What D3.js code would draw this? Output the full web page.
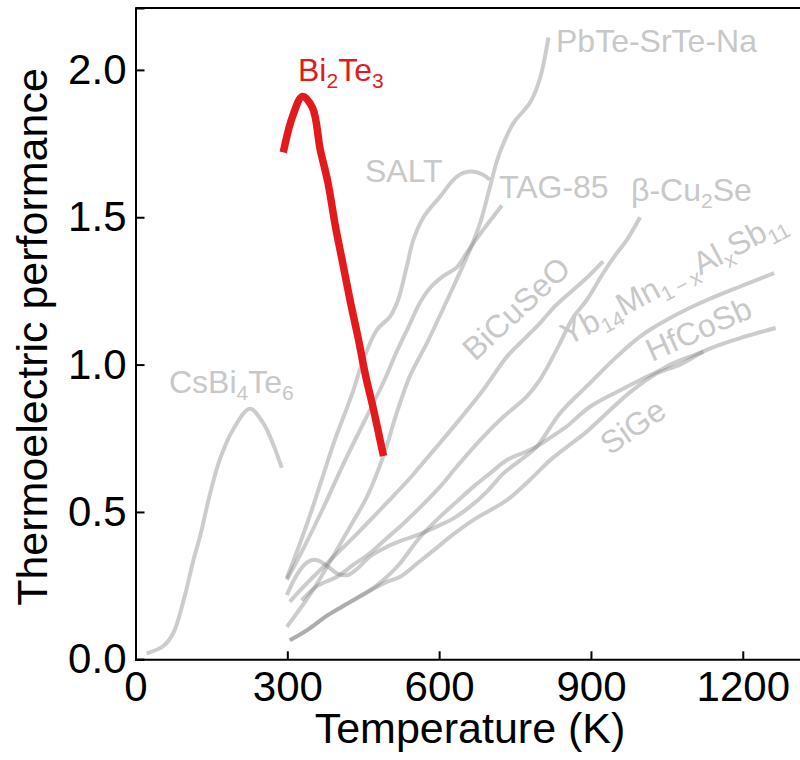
<!DOCTYPE html>
<html>
<head>
<meta charset="utf-8">
<script src="https://cdn.jsdelivr.net/npm/d3@7.9.0/dist/d3.min.js"></script>
<style>
  body { margin: 0; background: #fff; }
  svg text { font-family: "Liberation Sans", Arial, Helvetica, sans-serif; }
</style>
</head>
<body>
<svg id="chart" width="800" height="760"></svg>
<script>
// zT vs temperature, values as [T (K), zT]
const bi2te3 = [[292,1.72],[310,1.84],[330,1.91],[350,1.87],[365,1.73],[380,1.62],[395,1.47],[410,1.34],[425,1.21],[440,1.09],[455,0.96],[470,0.85],[490,0.69]];
const csbi4te6 = [[22,0.02],[55,0.045],[75,0.09],[95,0.2],[115,0.34],[128,0.42],[147,0.56],[167,0.68],[193,0.78],[226,0.85],[253,0.80],[272,0.73],[289,0.65]];
const pbte = [[299,0.11],[345,0.22],[384,0.33],[424,0.45],[457,0.55],[490,0.69],[516,0.835],[542,0.96],[575,1.07],[608,1.19],[635,1.29],[661,1.39],[681,1.48],[700,1.6],[714,1.69],[727,1.75],[747,1.82],[780,1.89],[799,1.97],[816,2.11]];
const salt = [[299,0.275],[320,0.37],[345,0.49],[370,0.62],[395,0.75],[415,0.84],[430,0.91],[450,1.016],[477,1.118],[503,1.163],[519,1.22],[536,1.333],[549,1.423],[569,1.50],[602,1.57],[635,1.638],[661,1.655],[687,1.644],[700,1.627]];
const tag85 = [[299,0.27],[330,0.37],[370,0.51],[410,0.66],[450,0.80],[490,0.94],[515,1.04],[540,1.13],[562,1.21],[582,1.26],[608,1.30],[635,1.33],[654,1.378],[687,1.457],[724,1.54]];
const cu2se = [[328,0.20],[360,0.25],[398,0.28],[430,0.32],[463,0.36],[496,0.41],[529,0.46],[565,0.52],[602,0.586],[635,0.654],[681,0.744],[727,0.823],[773,0.891],[799,0.948],[832,1.05],[865,1.16],[892,1.22],[924,1.31],[951,1.378],[971,1.423],[997,1.50]];
const bicuseo = [[305,0.196],[340,0.26],[381,0.33],[440,0.43],[496,0.53],[540,0.61],[562,0.654],[602,0.735],[641,0.815],[687,0.914],[734,1.027],[770,1.09],[799,1.14],[830,1.20],[865,1.254],[895,1.30],[924,1.35]];
const ybmnsb = [[299,0.218],[320,0.29],[340,0.33],[358,0.337],[380,0.315],[400,0.29],[420,0.286],[440,0.31],[463,0.348],[495,0.38],[529,0.405],[562,0.425],[595,0.45],[630,0.48],[661,0.518],[695,0.57],[727,0.631],[760,0.675],[793,0.722],[839,0.835],[898,0.937],[951,1.027],[997,1.095],[1050,1.152],[1115,1.208],[1195,1.265],[1262,1.31]];
const hfcosb = [[305,0.065],[340,0.1],[380,0.15],[420,0.19],[460,0.23],[480,0.255],[520,0.32],[560,0.41],[602,0.484],[635,0.535],[668,0.586],[700,0.63],[734,0.676],[765,0.70],[793,0.722],[822,0.755],[852,0.79],[898,0.857],[960,0.915],[997,0.948],[1030,0.975],[1063,1.005],[1100,1.03],[1122,1.044]];
const sige = [[305,0.065],[340,0.1],[380,0.15],[420,0.19],[460,0.23],[500,0.265],[523,0.28],[560,0.33],[600,0.385],[622,0.416],[668,0.473],[700,0.505],[734,0.54],[780,0.61],[819,0.675],[852,0.72],[890,0.77],[931,0.835],[980,0.91],[1030,0.97],[1076,1.0],[1129,1.05],[1195,1.09],[1265,1.124]];

const greyCurves = [pbte, salt, tag85, cu2se, bicuseo, ybmnsb, hfcosb, sige, csbi4te6];

const xTicks = [0, 300, 600, 900, 1200];
const yTicks = [0.0, 0.5, 1.0, 1.5, 2.0];

const svg = d3.select("#chart");
const m = { left: 135.5, bottom: 659.3, top: 8, right: 803.5 };

const x = d3.scaleLinear().domain([0, 1320]).range([m.left, m.right]);
const y = d3.scaleLinear().domain([0, 2.21]).range([m.bottom, m.top]);

const line = d3.line()
    .x(d => x(d[0]))
    .y(d => y(d[1]))
    .curve(d3.curveCatmullRom.alpha(0.5));

// grey reference materials
svg.append("g")
    .selectAll("path")
    .data(greyCurves)
    .join("path")
    .attr("d", line)
    .attr("fill", "none")
    .attr("stroke", "#808080")
    .attr("stroke-opacity", 0.4)
    .attr("stroke-width", 4);

// highlighted Bi2Te3
svg.append("path")
    .attr("d", line(bi2te3))
    .attr("fill", "none")
    .attr("stroke", "#e31a1c")
    .attr("stroke-width", 7.5);

// axes (ticks pointing inward)
const xAxis = svg.append("g")
    .attr("transform", `translate(0,${m.bottom})`)
    .call(d3.axisBottom(x).tickValues(xTicks).tickSize(-8).tickPadding(12).tickFormat(d3.format("d")));
const yAxis = svg.append("g")
    .attr("transform", `translate(${m.left},0)`)
    .call(d3.axisLeft(y).tickValues(yTicks).tickSize(-9).tickPadding(9).tickFormat(d3.format(".1f")));

[xAxis, yAxis].forEach(g => {
    g.select(".domain").attr("stroke", "#000").attr("stroke-width", 2);
    g.selectAll(".tick line").attr("stroke", "#000").attr("stroke-width", 2);
    g.selectAll(".tick text").attr("fill", "#000").style("font-size", "42px");
});
xAxis.selectAll(".tick text").attr("dy", "0.71em");

// top spine
svg.append("line")
    .attr("x1", m.left).attr("x2", 800)
    .attr("y1", m.top).attr("y2", m.top)
    .attr("stroke", "#000").attr("stroke-width", 2);

svg.append("text")
    .attr("x", 470).attr("y", 743)
    .attr("text-anchor", "middle")
    .style("font-size", "43px")
    .text("Temperature (K)");

svg.append("text")
    .attr("transform", "translate(47,337) rotate(-90)")
    .attr("text-anchor", "middle")
    .style("font-size", "43px")
    .text("Thermoelectric performance");

// labels: parts as [text, isSubscript]
function label(parts, px, py, angle, color) {
    const t = svg.append("text")
        .attr("transform", `translate(${px},${py}) rotate(${angle})`)
        .attr("fill", color)
        .style("font-size", "32px");
    let sub = false;
    parts.forEach(([s, isSub]) => {
        const shift = isSub === sub ? 0 : (isSub ? 7 : -7);
        t.append("tspan")
            .attr("dy", shift)
            .style("font-size", isSub ? "21px" : "32px")
            .text(s);
        sub = isSub;
    });
}

const grey = "#c8c8c8";
label([["PbTe-SrTe-Na", false]], 556, 52, 0, grey);
label([["SALT", false]], 365, 182, 0, grey);
label([["TAG-85", false]], 499, 198, 0, grey);
label([["β-Cu", false], ["2", true], ["Se", false]], 631, 201, 0, grey);
label([["BiCuSeO", false]], 475, 362, -43, grey);
label([["Yb", false], ["14", true], ["Mn", false], ["1\u2009\u2212\u2009x", true], ["Al", false], ["x", true], ["Sb", false], ["11", true]], 568, 346, -28, grey);
label([["HfCoSb", false]], 652, 362, -24, grey);
label([["SiGe", false]], 610, 456, -35, grey);
label([["CsBi", false], ["4", true], ["Te", false], ["6", true]], 169, 393, 0, grey);
label([["Bi", false], ["2", true], ["Te", false], ["3", true]], 298, 81, 0, "#e31a1c");
</script>
</body>
</html>
